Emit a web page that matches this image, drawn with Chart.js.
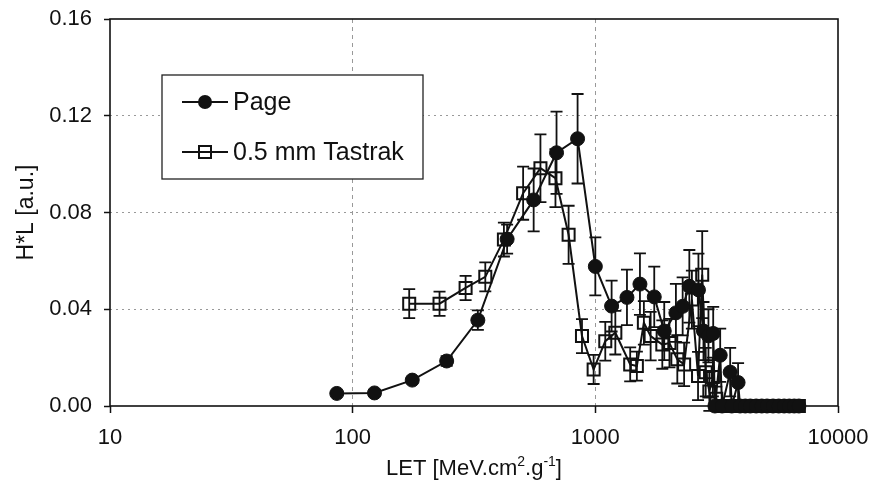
<!DOCTYPE html>
<html>
<head>
<meta charset="utf-8">
<script src="https://cdn.jsdelivr.net/npm/chart.js@4.4.1/dist/chart.umd.min.js"></script>
<style>
  html, body { margin: 0; background: #fff; }
</style>
</head>
<body>
<canvas id="letChart" width="876" height="483"></canvas>
<script>
// ---------------- data ----------------
const pageLET = [86, 123, 176, 244, 328, 433, 557, 692, 845, 1000, 1167, 1350, 1527, 1749, 1923, 2148, 2290, 2440, 2660, 2790, 2925, 3060, 3110, 3270, 3330, 3595, 3650, 3875, 3950, 4150, 4350, 4600, 4850, 5100, 5400, 5700, 6000, 6300, 6600, 6900];
const pageHL  = [0.0052, 0.0054, 0.0107, 0.0186, 0.0355, 0.069, 0.0852, 0.1047, 0.1105, 0.0577, 0.0413, 0.0449, 0.0504, 0.0451, 0.031, 0.0385, 0.0412, 0.0495, 0.048, 0.031, 0.029, 0.030, 0, 0.021, 0, 0.014, 0, 0.0097, 0, 0, 0, 0, 0, 0, 0, 0, 0, 0, 0, 0];
const pageErr = [0, 0, 0.001, 0.002, 0.004, 0.006, 0.013, 0.017, 0.0185, 0.012, 0.0105, 0.0115, 0.0127, 0.0125, 0.012, 0.012, 0.012, 0.015, 0.015, 0.012, 0.011, 0.011, 0, 0.011, 0, 0.010, 0, 0.008, 0, 0, 0, 0, 0, 0, 0, 0, 0, 0, 0, 0];

const tasLET = [171, 228, 292, 352, 420, 504, 594, 685, 776, 881, 984, 1099, 1209, 1392, 1483, 1585, 1690, 1888, 2020, 2177, 2322, 2500, 2650, 2757, 2850, 2950, 3050, 3150, 3300, 3500, 3700, 3950, 4200, 4500, 4800, 5200, 5600, 6000, 6400, 6900];
const tasHL  = [0.0423, 0.0423, 0.0488, 0.0534, 0.0688, 0.088, 0.0983, 0.0942, 0.0708, 0.0289, 0.0151, 0.0268, 0.0303, 0.0172, 0.0165, 0.0344, 0.0289, 0.0254, 0.026, 0.0193, 0.0172, 0.044, 0.0124, 0.0543, 0.014, 0.006, 0.012, 0.003, 0, 0, 0, 0, 0, 0, 0, 0, 0, 0, 0, 0];
const tasErr = [0.006, 0.005, 0.005, 0.006, 0.007, 0.011, 0.014, 0.012, 0.012, 0.007, 0.006, 0.008, 0.009, 0.007, 0.006, 0.009, 0.010, 0.010, 0.010, 0.010, 0.009, 0.012, 0.010, 0.018, 0.010, 0.008, 0.008, 0.005, 0, 0, 0, 0, 0, 0, 0, 0, 0, 0, 0, 0];

const xTicks = [10, 100, 1000, 10000];
const yTicks = [0, 0.04, 0.08, 0.12, 0.16];

const FONT = "'Liberation Sans', Arial, sans-serif";

const toPoints = (xs, ys) => xs.map((v, i) => ({ x: v, y: ys[i] }));

// vertical error bars with caps, drawn through the scales
const errorBars = {
    id: "errorBars",
    beforeDatasetsDraw(chart) {
        const { ctx, scales: { x, y } } = chart;
        ctx.save();
        ctx.strokeStyle = "#111";
        ctx.lineWidth = 1.8;
        chart.data.datasets.forEach(ds => {
            ds.data.forEach((p, i) => {
                const e = ds.errors[i];
                if (!e) return;
                const px = x.getPixelForValue(p.x);
                const top = y.getPixelForValue(p.y + e);
                const bot = y.getPixelForValue(p.y - e);
                ctx.beginPath();
                ctx.moveTo(px, top); ctx.lineTo(px, bot);
                ctx.moveTo(px - 6, top); ctx.lineTo(px + 6, top);
                ctx.moveTo(px - 6, bot); ctx.lineTo(px + 6, bot);
                ctx.stroke();
            });
        });
        ctx.restore();
    }
};

// plot frame, legend box and x-axis title with superscripts
const decorations = {
    id: "decorations",
    beforeDatasetsDraw(chart) {
        const { ctx, chartArea: a } = chart;
        ctx.save();
        ctx.strokeStyle = "#111";
        ctx.lineWidth = 1.6;
        ctx.strokeRect(a.left, a.top, a.right - a.left, a.bottom - a.top);
        ctx.restore();
    },
    afterDraw(chart) {
        const { ctx, chartArea: a } = chart;
        ctx.save();

        // legend
        ctx.fillStyle = "#fff";
        ctx.fillRect(162, 75, 261, 104);
        ctx.strokeStyle = "#222";
        ctx.lineWidth = 1.3;
        ctx.strokeRect(162, 75, 261, 104);

        ctx.lineWidth = 2;
        ctx.strokeStyle = "#111";
        [102, 152].forEach(ly => {
            ctx.beginPath(); ctx.moveTo(182, ly); ctx.lineTo(228, ly); ctx.stroke();
        });
        ctx.fillStyle = "#111";
        ctx.beginPath(); ctx.arc(205, 102, 7, 0, Math.PI * 2); ctx.fill();
        ctx.strokeRect(199, 146, 12, 12);

        ctx.font = "25px " + FONT;
        ctx.textBaseline = "middle";
        ctx.textAlign = "left";
        ctx.fillText("Page", 233, 103);
        ctx.fillText("0.5 mm Tastrak", 233, 153);

        // x title: LET [MeV.cm^2.g^-1]
        const parts = [["LET [MeV.cm", 0], ["2", 1], [".g", 0], ["-1", 1], ["]", 0]];
        const big = "22px " + FONT, small = "14px " + FONT;
        let w = 0;
        parts.forEach(([t, s]) => { ctx.font = s ? small : big; w += ctx.measureText(t).width; });
        let cx = (a.left + a.right) / 2 - w / 2;
        const base = 475;
        ctx.textBaseline = "alphabetic";
        parts.forEach(([t, s]) => {
            ctx.font = s ? small : big;
            ctx.fillText(t, cx, s ? base - 9 : base);
            cx += ctx.measureText(t).width;
        });
        ctx.restore();
    }
};

new Chart(document.getElementById("letChart"), {
    type: "scatter",
    data: {
        datasets: [
            {
                label: "Page",
                data: toPoints(pageLET, pageHL),
                errors: pageErr,
                showLine: true,
                borderColor: "#111",
                borderWidth: 2,
                pointStyle: "circle",
                pointRadius: 7,
                pointBackgroundColor: "#111",
                pointBorderColor: "#111",
                pointBorderWidth: 1,
                clip: false
            },
            {
                label: "0.5 mm Tastrak",
                data: toPoints(tasLET, tasHL),
                errors: tasErr,
                showLine: true,
                borderColor: "#111",
                borderWidth: 2,
                pointStyle: "rect",
                pointRadius: 8.5,
                pointBackgroundColor: "rgba(0,0,0,0)",
                pointBorderColor: "#111",
                pointBorderWidth: 2,
                clip: false
            }
        ]
    },
    options: {
        responsive: false,
        animation: false,
        layout: { padding: { top: 19, right: 38, left: 0, bottom: 0 } },
        plugins: {
            legend: { display: false },
            tooltip: { enabled: false }
        },
        scales: {
            x: {
                type: "logarithmic",
                min: 10,
                max: 10000,
                afterBuildTicks: s => { s.ticks = xTicks.map(v => ({ value: v })); },
                afterFit: s => { s.height = 77; s.paddingLeft = 0; s.paddingRight = 0; },
                border: { display: false, dash: [4, 4] },
                grid: {
                    color: c => (c.tick && (c.tick.value === 100 || c.tick.value === 1000)) ? "#999" : "rgba(0,0,0,0)",
                    lineWidth: 1,
                    tickColor: "#111",
                    tickLength: 7,
                    tickBorderDash: [],
                    tickWidth: 1.5
                },
                ticks: {
                    callback: v => String(v),
                    color: "#111",
                    font: { family: FONT, size: 22 },
                    padding: 12,
                    maxRotation: 0
                }
            },
            y: {
                min: 0,
                max: 0.16,
                afterBuildTicks: s => { s.ticks = yTicks.map(v => ({ value: v })); },
                afterFit: s => { s.width = 110; s.paddingTop = 0; s.paddingBottom = 0; },
                border: { display: false, dash: [2, 4] },
                grid: {
                    color: c => (c.tick && c.tick.value > 0 && c.tick.value < 0.16) ? "#999" : "rgba(0,0,0,0)",
                    lineWidth: 1,
                    tickColor: "#111",
                    tickLength: 6,
                    tickBorderDash: [],
                    tickWidth: 1.5
                },
                ticks: {
                    callback: v => v.toFixed(2),
                    color: "#111",
                    font: { family: FONT, size: 22 },
                    padding: 12
                },
                title: {
                    display: true,
                    text: "H*L [a.u.]",
                    color: "#111",
                    font: { family: FONT, size: 23 },
                    padding: { top: 13, bottom: 0 }
                }
            }
        }
    },
    plugins: [errorBars, decorations]
});
</script>
</body>
</html>
